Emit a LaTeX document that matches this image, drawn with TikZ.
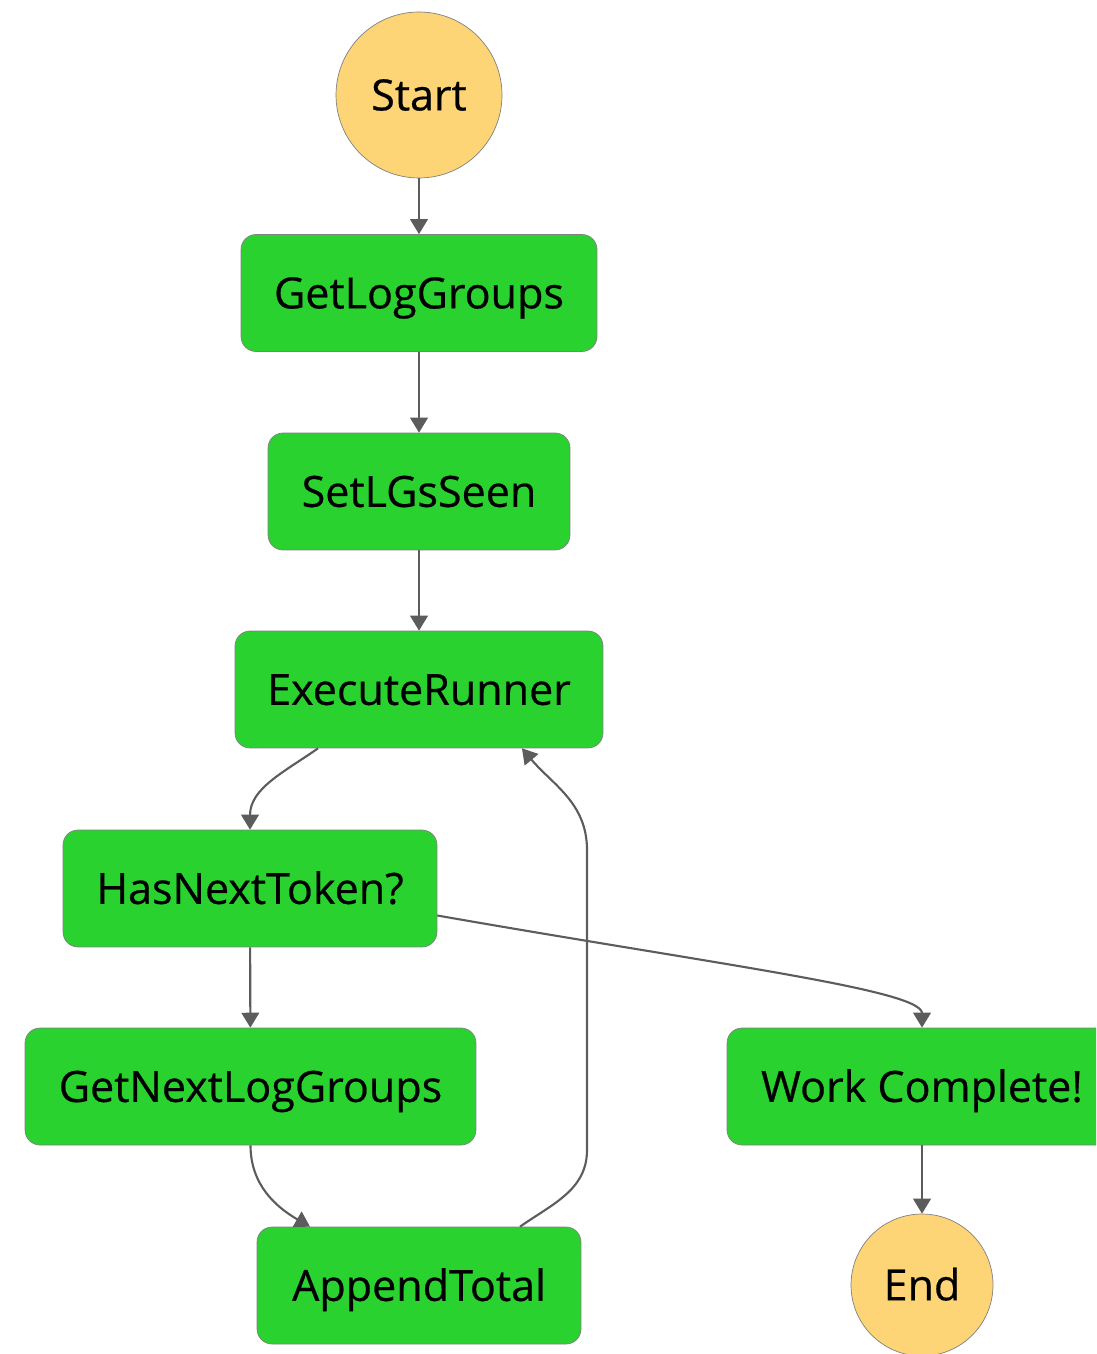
\documentclass[tikz,border=0pt]{standalone}
\usepackage{fontspec}
\setmainfont{Open Sans}
\newfontfamily\statefont{Open Sans}[FakeBold=0.5]
\usetikzlibrary{arrows.meta,positioning}

\definecolor{stategreen}{RGB}{42,210,48}
\definecolor{termyellow}{RGB}{253,213,118}
\definecolor{edgegray}{RGB}{92,92,92}

\begin{document}
\begin{tikzpicture}[x=0.02cm, y=-0.02cm,
  state/.style={rectangle, draw=gray, fill=stategreen, rounded corners=0.3cm, minimum height=2.34cm, inner sep=0pt, text height=22.5pt, text depth=5pt, font=\statefont\fontsize{24.5}{29}\selectfont},
  terminal/.style={circle, draw=gray, fill=termyellow, inner sep=0pt, text height=22.5pt, text depth=5pt, font=\statefont\fontsize{24.5}{29}\selectfont},
  flow/.style={draw=edgegray, line width=1.2pt, -{Triangle[width=10pt,length=8.5pt]}}]
\path[use as bounding box, clip] (0,0) rectangle (1096,1354);

\node [terminal, minimum size=3.32cm] (start) at (419,95) {Start};
\node [state, minimum width=7.12cm] (getlg) at (419,293) {GetLogGroups};
\node [state, minimum width=6.04cm] (setseen) at (419,491.5) {SetLGsSeen};
\node [state, minimum width=7.36cm] (exec) at (419,689.5) {ExecuteRunner};
\node [state, minimum width=7.48cm] (hasnext) at (250,888.5) {HasNextToken?};
\node [state, minimum width=9.02cm] (getnext) at (250.5,1086.5) {GetNextLogGroups};
\node [state, minimum width=6.48cm] (append) at (419,1285.5) {AppendTotal};
\node [state, minimum width=7.8cm] (work) at (922,1086.5) {Work Complete!};
\node [terminal, minimum size=2.84cm] (end) at (922,1285) {End};

\coordinate (loopbot) at (587,1150);
\coordinate (looptop) at (587,850);

\draw [flow] (start) -- (getlg);
\draw [flow] (getlg) -- (setseen);
\draw [flow] (setseen) -- (exec);
\draw [flow] ([xshift=-2.02cm]exec.south) to[out=-145, in=90] (hasnext.north);
\draw [flow] (hasnext) -- (getnext);
\draw [flow] ([yshift=-0.54cm]hasnext.east) .. controls (720,965) and (922,990) .. (work.north);
\draw [flow] (getnext.south) to[out=-90, in=150] ([xshift=-2.18cm]append.north);
\draw [flow] ([xshift=2.02cm]append.north) to[out=35, in=-90] (loopbot) -- (looptop) to[out=90, in=-50] ([xshift=2.06cm]exec.south);
\draw [flow] (work) -- (end);

\end{tikzpicture}
\end{document}
